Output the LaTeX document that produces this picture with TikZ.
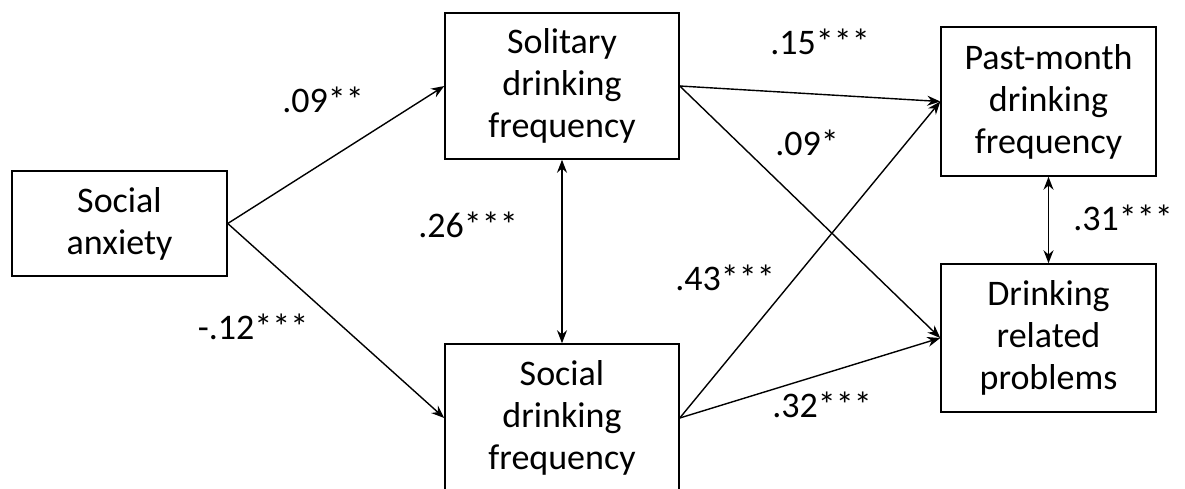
\documentclass[tikz,border=0pt]{standalone}
\usepackage{fontspec}
\setmainfont{Carlito}
\usetikzlibrary{arrows.meta}
\begin{document}
\begin{tikzpicture}[x=1pt,y=-1pt,
  box/.style={draw, line width=1.5pt, align=center, inner sep=0pt,
    font=\fontsize{36}{42}\selectfont},
  lab/.style={font=\fontsize{36}{40}\selectfont, inner sep=0pt},
  conn/.style={line width=1.4pt, -{Stealth[length=13pt,width=10pt]}},
  dconn/.style={line width=1.4pt, {Stealth[length=13pt,width=10pt]}-{Stealth[length=13pt,width=10pt]}}]
\useasboundingbox (0,0) rectangle (1185,489);
\node[box, minimum width=215pt, minimum height=105pt] (sa) at (119.5,223.5) {Social\\anxiety};
\node[box, minimum width=234pt, minimum height=146pt] (sol) at (562,86) {Solitary\\drinking\\frequency};
\node[box, minimum width=234pt, minimum height=148pt] (soc) at (562,418) {Social\\drinking\\frequency};
\node[box, minimum width=215pt, minimum height=149pt] (pm) at (1048.5,101.5) {Past-month\\drinking\\frequency};
\node[box, minimum width=215pt, minimum height=148pt] (drp) at (1048.5,338) {Drinking\\related\\problems};
\draw[conn] (sa.east) -- (sol.west);
\draw[conn] (sa.east) -- (soc.west);
\draw[dconn] (sol.south) -- (soc.north);
\draw[conn] (sol.east) -- (pm.west);
\draw[conn] (sol.east) -- (drp.west);
\draw[conn] (soc.east) -- (pm.west);
\draw[conn] (soc.east) -- (drp.west);
\draw[dconn] (pm.south) -- (drp.north);
\node[lab] (l1) at (323,100) {.09**};
\node[lab] (l2) at (253,327) {-.12***};
\node[lab] (l3) at (468,225) {.26***};
\node[lab] (l4) at (820,42) {.15***};
\node[lab] (l5) at (807,143) {.09*};
\node[lab] (l6) at (725,278) {.43***};
\node[lab] (l7) at (822,405) {.32***};
\node[lab] (l8) at (1123,218) {.31***};
\end{tikzpicture}
\end{document}
